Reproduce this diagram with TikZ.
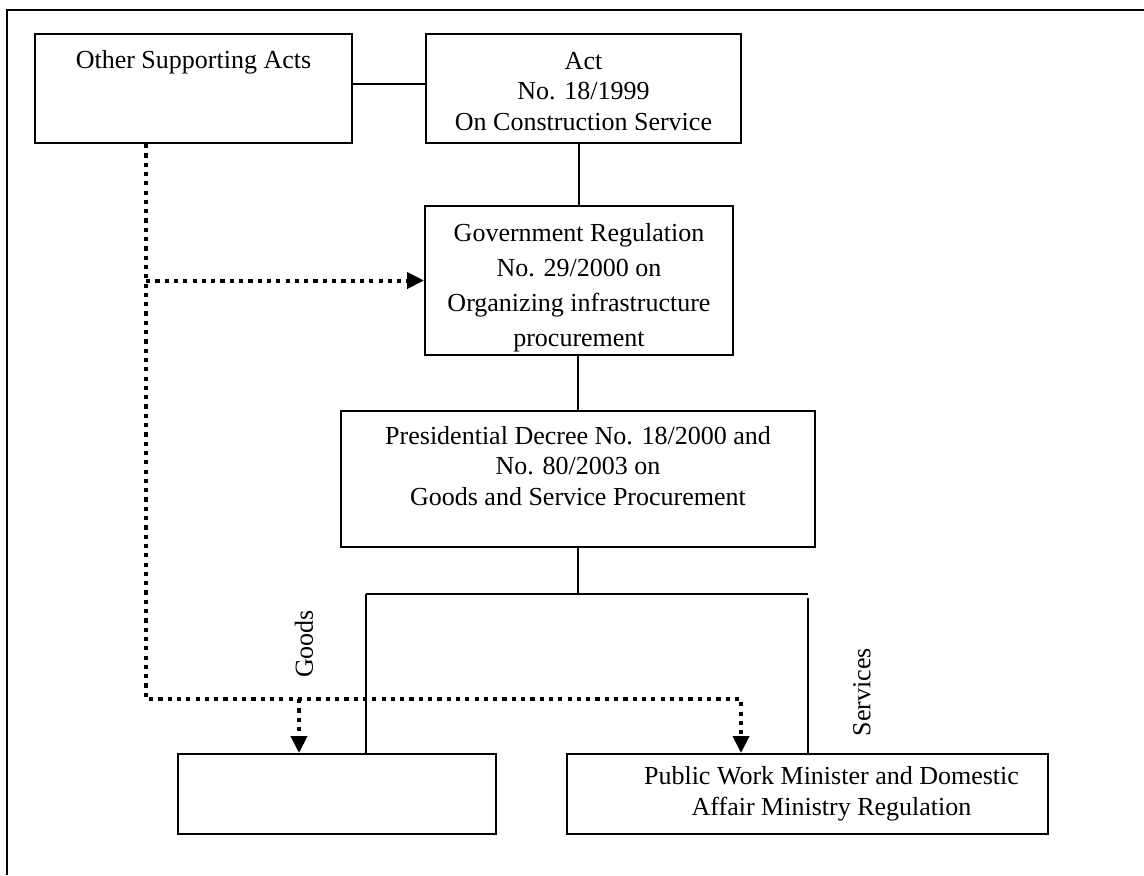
\documentclass[tikz,border=0pt]{standalone}
\usepackage{fontspec}
\setmainfont{Liberation Serif}
\usetikzlibrary{arrows.meta}

\begin{document}
\begin{tikzpicture}[
    x=0.5pt, y=-0.5pt,
    every node/.style={inner sep=0pt, font=\fontsize{13}{15.25}\selectfont},
    regbox/.style={draw, line width=1pt, align=center},
    link/.style={draw, line width=0.6pt},
    dotline/.style={draw, line width=2pt, dash pattern=on 2.1pt off 2.55pt},
    dotarrow/.style={dotline, -{Triangle[length=8.5pt,width=8pt]}}
]
\useasboundingbox (0,0) rectangle (1144,875);
\draw[line width=1pt] (1144,10) -- (7,10) -- (7,875);

\node[regbox, minimum width=158.5pt, text height=17pt, text depth=37.5pt] (other) at (193.5,88.5) {Other Supporting Acts};
\node[regbox, minimum width=157.5pt, text height=48pt, text depth=6.5pt] (act) at (583.5,88.5) {Act\\No. 18/1999\\On Construction Service};
\node[regbox, minimum width=154pt, text height=70pt, text depth=4.5pt,
      font=\fontsize{13}{17.5}\selectfont] (gov) at (579,280.5) {Government Regulation\\No. 29/2000 on\\Organizing infrastructure\\procurement};
\node[regbox, minimum width=237pt, text height=47pt, text depth=21pt] (pres) at (578,479) {Presidential Decree No. 18/2000 and\\No. 80/2003 on\\Goods and Service Procurement};
\node[regbox, minimum width=159pt, minimum height=40pt] (goodsbox) at (337,794) {};
\node[regbox, minimum width=240.5pt, minimum height=40pt] (serv) at (807.5,794) {\hspace*{24pt}Public Work Minister and Domestic\\\hspace*{24pt}Affair Ministry Regulation};

\node[rotate=90] (goodslbl) at (304,644) {Goods};
\node[rotate=90] (servlbl) at (862,692) {Services};

\draw[link] ([yshift=2.25pt]other.east) -- ([yshift=2.25pt]act.west);
\draw[link] (gov.north |- act.south) -- (gov.north);
\draw[link] (pres.north |- gov.south) -- (pres.north);

\coordinate (gl) at (366,594);
\coordinate (sr) at (808,594);
\draw[link] (pres.south) -- (pres.south |- gl);
\draw[link] (gl) -- (sr);
\draw[link] (gl) -- (gl |- goodsbox.north);
\draw[link] ([yshift=-2pt]sr) -- (sr |- serv.north);

\coordinate (dtop) at ([xshift=-23.75pt]other.south);
\coordinate (dturn) at (146,699);
\draw[dotarrow] (dtop) -- (dturn) -| ([xshift=-33.25pt]serv.north);
\draw[dotarrow] (dtop |- gov.west) -- (gov.west);
\draw[dotarrow] ([xshift=-19pt]goodsbox.north |- dturn) -- ([xshift=-19pt]goodsbox.north);
\end{tikzpicture}
\end{document}
